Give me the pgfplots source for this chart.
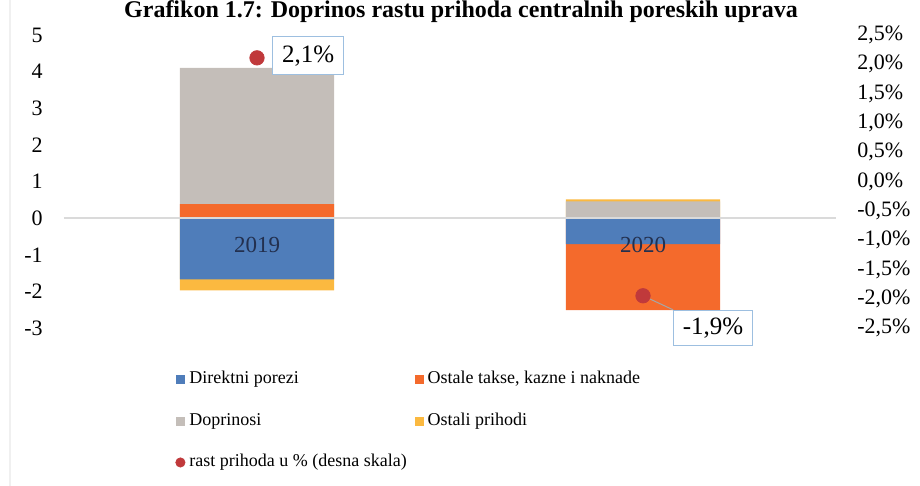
\documentclass[border=0pt]{standalone}
\usepackage{fontspec}
\setmainfont{Liberation Serif}
\usepackage{pgfplots}
\pgfplotsset{compat=1.18}
\definecolor{cblue}{HTML}{4F7DBA}
\definecolor{corange}{HTML}{F46A2C}
\definecolor{cgray}{HTML}{C4BEB9}
\definecolor{cyellow}{HTML}{FBB940}
\definecolor{cred}{HTML}{C0393B}
\definecolor{cbox}{HTML}{9DBFE0}
\definecolor{czero}{HTML}{DADADA}
\definecolor{ccat}{HTML}{23304F}
\begin{document}
\begin{tikzpicture}
% faint chart frame (left edge)
\draw[gray!12, line width=0.6pt] (-27pt,-79pt) -- (-27pt,164pt);
\begin{axis}[
  at={(0pt,0pt)}, anchor=south west,
  scale only axis, width=386pt, height=146.5pt,
  xmin=-0.5, xmax=1.5, ymin=-3, ymax=5,
  axis line style={draw=none}, major tick length=0pt,
  xtick=\empty,
  ytick={-3,-2,-1,0,1,2,3,4,5},
  yticklabels={-3,-2,-1,0,1,2,3,4,5},
  yticklabel style={font=\fontsize{11}{13}\selectfont, inner sep=0pt, xshift=-10.5pt, anchor=east},
  ybar, bar width=77.2pt, bar shift=0pt,
  clip=false,
]
% segment ends (cumulative edges); outermost drawn first
% 2019: blue 0..-1.67, yellow -1.67..-1.97, orange 0..0.38, gray 0.38..4.10
% 2020: blue 0..-0.71, orange -0.71..-2.51, gray 0..0.46, yellow 0.46..0.51
\addplot[fill=cyellow, draw=none] coordinates {(0,-1.97) (1,0.51)};
\addplot[fill=cgray, draw=none] coordinates {(0,4.10) (1,0.46)};
\addplot[fill=corange, draw=none] coordinates {(0,0.38) (1,-2.51)};
\addplot[fill=cblue, draw=none] coordinates {(0,-1.67) (1,-0.71)};
\draw[czero, line width=1pt] (axis cs:-0.5,0) -- (axis cs:1.5,0);
\node[font=\fontsize{11.5}{13}\selectfont, text=ccat, yshift=-13.5pt] at (axis cs:0,0) {2019};
\node[font=\fontsize{11.5}{13}\selectfont, text=ccat, yshift=-13.5pt] at (axis cs:1,0) {2020};
\end{axis}
\begin{axis}[
  at={(0pt,0pt)}, anchor=south west,
  scale only axis, width=386pt, height=146.5pt,
  xmin=-0.5, xmax=1.5, ymin=-2.5, ymax=2.5,
  axis y line*=right, axis x line=none,
  axis line style={draw=none}, major tick length=0pt,
  xtick=\empty,
  ytick={-2.5,-2,-1.5,-1,-0.5,0,0.5,1,1.5,2,2.5},
  yticklabels={{-2,5\%},{-2,0\%},{-1,5\%},{-1,0\%},{-0,5\%},{0,0\%},{0,5\%},{1,0\%},{1,5\%},{2,0\%},{2,5\%}},
  yticklabel style={font=\fontsize{11}{13}\selectfont, inner sep=0pt, xshift=10.5pt, anchor=west},
  clip=false,
  legend columns=2,
  legend cell align=left,
  legend style={draw=none, fill=none, at={(0.1438,-0.147)}, anchor=north west,
    inner sep=0pt, font=\fontsize{9}{11}\selectfont, row sep=12.75pt, column sep=2pt,
    /tikz/every even column/.append style={column sep=4pt},
    nodes={inner sep=0pt, text height=6.2pt, text depth=1.8pt}},
]
\addlegendimage{legend image code/.code={\fill[cblue] (0pt,-2pt) rectangle (4pt,2pt);}}
\addlegendentry{Direktni porezi}
\addlegendimage{legend image code/.code={\fill[corange] (0pt,-2pt) rectangle (4pt,2pt);}}
\addlegendentry{Ostale takse, kazne i naknade}
\addlegendimage{legend image code/.code={\fill[cgray] (0pt,-2pt) rectangle (4pt,2pt);}}
\addlegendentry{Doprinosi}
\addlegendimage{legend image code/.code={\fill[cyellow] (0pt,-2pt) rectangle (4pt,2pt);}}
\addlegendentry{Ostali prihodi}
\draw[gray!70, line width=0.5pt] (axis cs:1,-1.95) -- ++(15pt,-7pt);
\addplot[only marks, mark=*, mark size=3.6pt, color=cred,
  legend image code/.code={\fill[cred] (2pt,0pt) circle (2.3pt);}]
  coordinates {(0,2.11) (1,-1.95)};
\addlegendentry{rast prihoda u \% (desna skala)}
\node[draw=cbox, fill=white, line width=0.6pt, anchor=west, xshift=7.5pt, yshift=1pt,
  minimum height=19pt, inner xsep=4.7pt, inner ysep=0pt,
  font=\fontsize{12.5}{14}\selectfont] at (axis cs:0,2.11) {2,1\%};
\node[draw=cbox, fill=white, line width=0.6pt, anchor=north west, xshift=15pt, yshift=-7pt,
  minimum height=17.5pt, inner xsep=4.6pt, inner ysep=0pt,
  font=\fontsize{12.5}{14}\selectfont] at (axis cs:1,-1.95) {-1,9\%};
\end{axis}
\node[anchor=base, font=\bfseries\fontsize{12}{14}\selectfont] at (198.5pt,155pt)
  {Grafikon 1.7: Doprinos rastu prihoda centralnih poreskih uprava};
\pgfresetboundingbox
\path[use as bounding box] (-32pt,-79pt) rectangle (428pt,164pt);
\end{tikzpicture}
\end{document}
